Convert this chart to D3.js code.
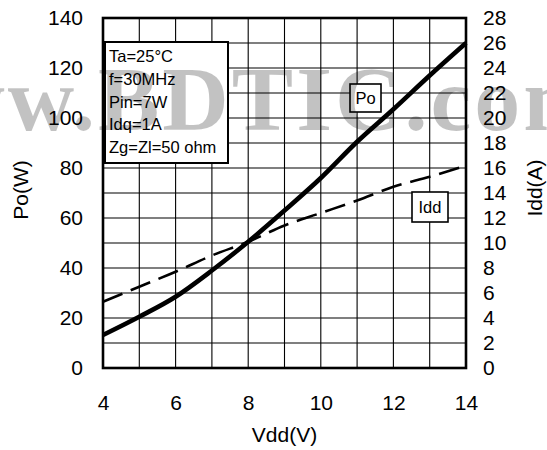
<!DOCTYPE html>
<html><head><meta charset="utf-8">
<script src="https://cdn.jsdelivr.net/npm/d3@7"></script>
<style>body{margin:0;background:#fff}svg{display:block}</style>
</head><body>
<svg id="c" width="547" height="450"></svg>
<script>
const vdd = [4, 5, 6, 7, 8, 9, 10, 11, 12, 13, 14];
const po = [13.2, 20.5, 28.5, 39, 50.5, 63, 76, 90.5, 103.5, 117, 130];
const idd = [5.3, 6.5, 7.7, 9.0, 10.1, 11.4, 12.4, 13.4, 14.5, 15.3, 16.2];
const xTicks = [4, 6, 8, 10, 12, 14];
const poTicks = [0, 20, 40, 60, 80, 100, 120, 140];
const iddTicks = [0, 2, 4, 6, 8, 10, 12, 14, 16, 18, 20, 22, 24, 26, 28];
const xGrid = [4, 5, 6, 7, 8, 9, 10, 11, 12, 13, 14];
const yGrid = [0, 10, 20, 30, 40, 50, 60, 70, 80, 90, 100, 110, 120, 130, 140];
const conditions = ["Ta=25°C", "f=30MHz", "Pin=7W", "Idq=1A", "Zg=Zl=50 ohm"];
const xTitle = "Vdd(V)", yLTitle = "Po(W)", yRTitle = "Idd(A)";
const watermark = "www.BDTIC.com";

const svg = d3.select("#c");
const FONT = "'Liberation Sans', Arial, sans-serif";
const L = 103, R = 466, T = 18, B = 368;
const x = d3.scaleLinear().domain([4, 14]).range([L, R]);
const yL = d3.scaleLinear().domain([0, 140]).range([B, T]);
const yR = d3.scaleLinear().domain([0, 28]).range([B, T]);

// grid
const g = svg.append("g");
g.selectAll(".vg").data(xGrid).join("line")
  .attr("x1", d => x(d)).attr("x2", d => x(d)).attr("y1", T).attr("y2", B)
  .attr("stroke", "#000").attr("stroke-width", 1.1);
g.selectAll(".hg").data(yGrid).join("line")
  .attr("y1", d => yL(d)).attr("y2", d => yL(d)).attr("x1", L).attr("x2", R)
  .attr("stroke", "#000").attr("stroke-width", 1.1);

// axes
function styleAxis(sel) {
  sel.select(".domain").remove();
  sel.selectAll("text").attr("font-family", FONT).attr("font-size", 21).attr("fill", "#000");
}
svg.append("g").attr("transform", `translate(${L},0)`)
  .call(d3.axisLeft(yL).tickValues(poTicks).tickSize(0).tickPadding(20))
  .call(styleAxis);
svg.append("g").attr("transform", `translate(${R},0)`)
  .call(d3.axisRight(yR).tickValues(iddTicks).tickSize(0).tickPadding(17))
  .call(styleAxis);
svg.append("g").attr("transform", `translate(0,${B})`)
  .call(d3.axisBottom(x).tickValues(xTicks).tickSize(0).tickPadding(27))
  .call(styleAxis);

// frame
svg.append("rect").attr("x", L).attr("y", T).attr("width", R - L).attr("height", B - T)
  .attr("fill", "none").attr("stroke", "#000").attr("stroke-width", 2.6);

// lines
const poLine = d3.line().x((d, i) => x(vdd[i])).y(d => yL(d)).curve(d3.curveMonotoneX);
const iddLine = d3.line().x((d, i) => x(vdd[i])).y(d => yR(d)).curve(d3.curveMonotoneX);
svg.append("path").datum(idd).attr("d", iddLine).attr("fill", "none")
  .attr("stroke", "#000").attr("stroke-width", 2.6).attr("stroke-dasharray", "21,9");
svg.append("path").datum(po).attr("d", poLine).attr("fill", "none")
  .attr("stroke", "#000").attr("stroke-width", 4.6);

// conditions box
svg.append("rect").attr("x", 105).attr("y", 42).attr("width", 123).attr("height", 121)
  .attr("fill", "#fff").attr("stroke", "#000").attr("stroke-width", 2);
svg.append("g").selectAll("text").data(conditions).join("text")
  .attr("x", 109).attr("y", (d, i) => 62 + i * 22.75)
  .attr("font-family", FONT).attr("font-size", 16.5).text(d => d);

// series labels
function labelBox(cx, cy, w, h, txt) {
  svg.append("rect").attr("x", cx - w / 2).attr("y", cy - h / 2).attr("width", w).attr("height", h)
    .attr("fill", "#fff").attr("stroke", "#000").attr("stroke-width", 1.6);
  svg.append("text").attr("x", cx).attr("y", cy + 6).attr("text-anchor", "middle")
    .attr("font-family", FONT).attr("font-size", 16.5).text(txt);
}
labelBox(365.5, 98, 31, 28, "Po");
labelBox(430, 207, 36, 30, "Idd");

// axis titles
svg.append("text").attr("x", (L + R) / 2).attr("y", 442).attr("text-anchor", "middle")
  .attr("font-family", FONT).attr("font-size", 21).text(xTitle);
svg.append("text").attr("transform", "translate(28,190) rotate(-90)").attr("text-anchor", "middle")
  .attr("font-family", FONT).attr("font-size", 21).text(yLTitle);
svg.append("text").attr("transform", "translate(542,188) rotate(-90)").attr("text-anchor", "middle")
  .attr("font-family", FONT).attr("font-size", 21).text(yRTitle);

// watermark
const wm = svg.append("text").attr("x", 0).attr("y", 130)
  .attr("font-family", "'Liberation Serif', 'Times New Roman', serif").attr("font-weight", "bold")
  .attr("font-size", 92).attr("letter-spacing", 3)
  .attr("fill", "#000").attr("fill-opacity", 0.24).text(watermark);
const bPos = wm.node().getStartPositionOfChar(4).x;
wm.attr("x", 98 - bPos);
</script>
</body></html>
